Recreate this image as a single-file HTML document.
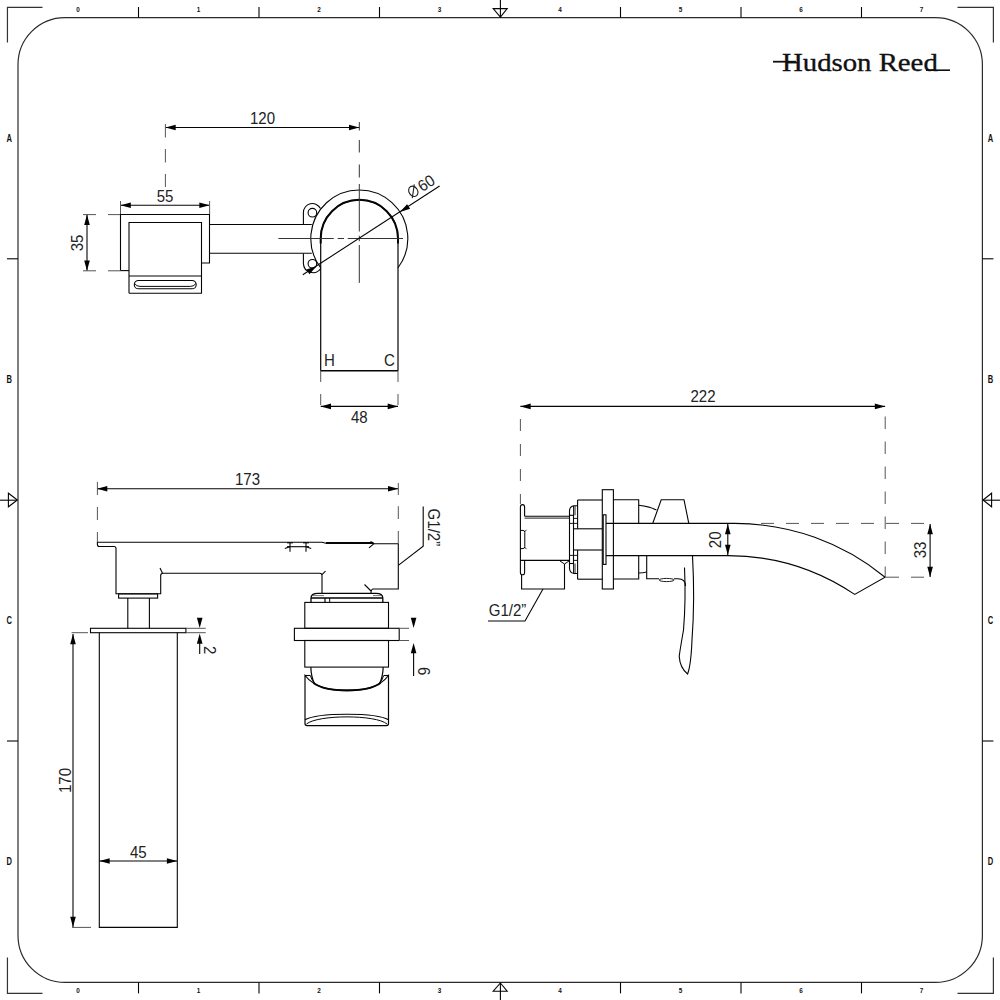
<!DOCTYPE html>
<html><head><meta charset="utf-8"><style>
html,body{margin:0;padding:0;background:#fff;width:1000px;height:1000px;overflow:hidden}
svg{display:block}
</style></head><body>
<svg width="1000" height="1000" viewBox="0 0 1000 1000">
<rect width="1000" height="1000" fill="#fff"/>
<path d="M65.0,17.6 H935.4 A47,47 0 0 1 982.4,64.6 V935.4 A47,47 0 0 1 935.4,982.4 H65.0 A47,47 0 0 1 18.0,935.4 V64.6 A47,47 0 0 1 65.0,17.6 Z" fill="none" stroke="#2a2a2a" stroke-width="1.2" />
<polyline points="7.45,42.5 7.45,7.45 42.5,7.45" fill="none" stroke="#333" stroke-width="1.2"/>
<polyline points="957.5,7.45 993.4,7.45 993.4,42.5" fill="none" stroke="#333" stroke-width="1.2"/>
<polyline points="7.45,957.5 7.45,993.4 42.5,993.4" fill="none" stroke="#333" stroke-width="1.2"/>
<polyline points="957.5,993.4 993.4,993.4 993.4,957.5" fill="none" stroke="#333" stroke-width="1.2"/>
<line x1="138.5" y1="7" x2="138.5" y2="17.6" stroke="#050505" stroke-width="1.1"/>
<line x1="138.5" y1="982.4" x2="138.5" y2="993.4" stroke="#050505" stroke-width="1.1"/>
<line x1="259" y1="7" x2="259" y2="17.6" stroke="#050505" stroke-width="1.1"/>
<line x1="259" y1="982.4" x2="259" y2="993.4" stroke="#050505" stroke-width="1.1"/>
<line x1="379.5" y1="7" x2="379.5" y2="17.6" stroke="#050505" stroke-width="1.1"/>
<line x1="379.5" y1="982.4" x2="379.5" y2="993.4" stroke="#050505" stroke-width="1.1"/>
<line x1="620.5" y1="7" x2="620.5" y2="17.6" stroke="#050505" stroke-width="1.1"/>
<line x1="620.5" y1="982.4" x2="620.5" y2="993.4" stroke="#050505" stroke-width="1.1"/>
<line x1="741" y1="7" x2="741" y2="17.6" stroke="#050505" stroke-width="1.1"/>
<line x1="741" y1="982.4" x2="741" y2="993.4" stroke="#050505" stroke-width="1.1"/>
<line x1="861.5" y1="7" x2="861.5" y2="17.6" stroke="#050505" stroke-width="1.1"/>
<line x1="861.5" y1="982.4" x2="861.5" y2="993.4" stroke="#050505" stroke-width="1.1"/>
<line x1="7" y1="258.8" x2="18.0" y2="258.8" stroke="#050505" stroke-width="1.1"/>
<line x1="982.4" y1="258.8" x2="993.4" y2="258.8" stroke="#050505" stroke-width="1.1"/>
<line x1="7" y1="741" x2="18.0" y2="741" stroke="#050505" stroke-width="1.1"/>
<line x1="982.4" y1="741" x2="993.4" y2="741" stroke="#050505" stroke-width="1.1"/>
<polygon points="493.2,8.6 507.2,8.6 500.4,17.2" fill="none" stroke="#050505" stroke-width="1.1"/>
<line x1="500.4" y1="0" x2="500.4" y2="17" stroke="#050505" stroke-width="1.1"/>
<polygon points="493.2,991.2 507.2,991.2 500.4,983" fill="none" stroke="#050505" stroke-width="1.1"/>
<line x1="500.4" y1="983" x2="500.4" y2="1000" stroke="#050505" stroke-width="1.1"/>
<polygon points="8.4,493.2 8.4,506.8 17.4,500" fill="none" stroke="#050505" stroke-width="1.1"/>
<line x1="0" y1="500.2" x2="17" y2="500.2" stroke="#050505" stroke-width="1.1"/>
<polygon points="991.6,493.2 991.6,506.8 983,500" fill="none" stroke="#050505" stroke-width="1.1"/>
<line x1="983" y1="500.2" x2="1000" y2="500.2" stroke="#050505" stroke-width="1.1"/>
<g transform="translate(78.0 12.3) scale(0.85 1)"><text x="0" y="0" font-family="&quot;Liberation Sans&quot;, sans-serif" font-size="7.5" text-anchor="middle" fill="#111" font-weight="bold">0</text></g>
<g transform="translate(78.0 993.3) scale(0.85 1)"><text x="0" y="0" font-family="&quot;Liberation Sans&quot;, sans-serif" font-size="7.5" text-anchor="middle" fill="#111" font-weight="bold">0</text></g>
<g transform="translate(198.5 12.3) scale(0.85 1)"><text x="0" y="0" font-family="&quot;Liberation Sans&quot;, sans-serif" font-size="7.5" text-anchor="middle" fill="#111" font-weight="bold">1</text></g>
<g transform="translate(198.5 993.3) scale(0.85 1)"><text x="0" y="0" font-family="&quot;Liberation Sans&quot;, sans-serif" font-size="7.5" text-anchor="middle" fill="#111" font-weight="bold">1</text></g>
<g transform="translate(319.0 12.3) scale(0.85 1)"><text x="0" y="0" font-family="&quot;Liberation Sans&quot;, sans-serif" font-size="7.5" text-anchor="middle" fill="#111" font-weight="bold">2</text></g>
<g transform="translate(319.0 993.3) scale(0.85 1)"><text x="0" y="0" font-family="&quot;Liberation Sans&quot;, sans-serif" font-size="7.5" text-anchor="middle" fill="#111" font-weight="bold">2</text></g>
<g transform="translate(439.5 12.3) scale(0.85 1)"><text x="0" y="0" font-family="&quot;Liberation Sans&quot;, sans-serif" font-size="7.5" text-anchor="middle" fill="#111" font-weight="bold">3</text></g>
<g transform="translate(439.5 993.3) scale(0.85 1)"><text x="0" y="0" font-family="&quot;Liberation Sans&quot;, sans-serif" font-size="7.5" text-anchor="middle" fill="#111" font-weight="bold">3</text></g>
<g transform="translate(560.0 12.3) scale(0.85 1)"><text x="0" y="0" font-family="&quot;Liberation Sans&quot;, sans-serif" font-size="7.5" text-anchor="middle" fill="#111" font-weight="bold">4</text></g>
<g transform="translate(560.0 993.3) scale(0.85 1)"><text x="0" y="0" font-family="&quot;Liberation Sans&quot;, sans-serif" font-size="7.5" text-anchor="middle" fill="#111" font-weight="bold">4</text></g>
<g transform="translate(680.5 12.3) scale(0.85 1)"><text x="0" y="0" font-family="&quot;Liberation Sans&quot;, sans-serif" font-size="7.5" text-anchor="middle" fill="#111" font-weight="bold">5</text></g>
<g transform="translate(680.5 993.3) scale(0.85 1)"><text x="0" y="0" font-family="&quot;Liberation Sans&quot;, sans-serif" font-size="7.5" text-anchor="middle" fill="#111" font-weight="bold">5</text></g>
<g transform="translate(801.0 12.3) scale(0.85 1)"><text x="0" y="0" font-family="&quot;Liberation Sans&quot;, sans-serif" font-size="7.5" text-anchor="middle" fill="#111" font-weight="bold">6</text></g>
<g transform="translate(801.0 993.3) scale(0.85 1)"><text x="0" y="0" font-family="&quot;Liberation Sans&quot;, sans-serif" font-size="7.5" text-anchor="middle" fill="#111" font-weight="bold">6</text></g>
<g transform="translate(921.5 12.3) scale(0.85 1)"><text x="0" y="0" font-family="&quot;Liberation Sans&quot;, sans-serif" font-size="7.5" text-anchor="middle" fill="#111" font-weight="bold">7</text></g>
<g transform="translate(921.5 993.3) scale(0.85 1)"><text x="0" y="0" font-family="&quot;Liberation Sans&quot;, sans-serif" font-size="7.5" text-anchor="middle" fill="#111" font-weight="bold">7</text></g>
<g transform="translate(9.3 141.6) scale(0.72 1)"><text x="0" y="0" font-family="&quot;Liberation Sans&quot;, sans-serif" font-size="10.5" text-anchor="middle" fill="#111" font-weight="bold">A</text></g>
<g transform="translate(990.4 141.6) scale(0.72 1)"><text x="0" y="0" font-family="&quot;Liberation Sans&quot;, sans-serif" font-size="10.5" text-anchor="middle" fill="#111" font-weight="bold">A</text></g>
<g transform="translate(9.3 382.6) scale(0.72 1)"><text x="0" y="0" font-family="&quot;Liberation Sans&quot;, sans-serif" font-size="10.5" text-anchor="middle" fill="#111" font-weight="bold">B</text></g>
<g transform="translate(990.4 382.6) scale(0.72 1)"><text x="0" y="0" font-family="&quot;Liberation Sans&quot;, sans-serif" font-size="10.5" text-anchor="middle" fill="#111" font-weight="bold">B</text></g>
<g transform="translate(9.3 623.6) scale(0.72 1)"><text x="0" y="0" font-family="&quot;Liberation Sans&quot;, sans-serif" font-size="10.5" text-anchor="middle" fill="#111" font-weight="bold">C</text></g>
<g transform="translate(990.4 623.6) scale(0.72 1)"><text x="0" y="0" font-family="&quot;Liberation Sans&quot;, sans-serif" font-size="10.5" text-anchor="middle" fill="#111" font-weight="bold">C</text></g>
<g transform="translate(9.3 864.6) scale(0.72 1)"><text x="0" y="0" font-family="&quot;Liberation Sans&quot;, sans-serif" font-size="10.5" text-anchor="middle" fill="#111" font-weight="bold">D</text></g>
<g transform="translate(990.4 864.6) scale(0.72 1)"><text x="0" y="0" font-family="&quot;Liberation Sans&quot;, sans-serif" font-size="10.5" text-anchor="middle" fill="#111" font-weight="bold">D</text></g>
<g transform="translate(782,71) scale(1.107,1)"><text x="0" y="0" font-family="&quot;Liberation Serif&quot;, serif" font-size="26" fill="#111" stroke="#111" stroke-width="0.35">Hudson Reed</text></g>
<line x1="773" y1="61.7" x2="796" y2="61.7" stroke="#111" stroke-width="1.8"/>
<line x1="926" y1="70.2" x2="950" y2="70.2" stroke="#111" stroke-width="1.6"/>
<line x1="165.4" y1="127.5" x2="359.3" y2="127.5" stroke="#050505" stroke-width="1.1"/>
<polygon points="165.40,127.50 175.70,124.70 175.70,130.30" fill="#000"/>
<polygon points="359.30,127.50 349.00,130.30 349.00,124.70" fill="#000"/>
<g transform="translate(262.5 123.8) scale(0.94 1)"><text x="0" y="0" font-family="&quot;Liberation Sans&quot;, sans-serif" font-size="16" text-anchor="middle" fill="#222" >120</text></g>
<line x1="165.4" y1="124" x2="165.4" y2="187" stroke="#555" stroke-width="1" stroke-dasharray="13.5 11.5"/>
<line x1="120.5" y1="205.3" x2="209.6" y2="205.3" stroke="#050505" stroke-width="1.1"/>
<polygon points="120.50,205.30 130.80,202.50 130.80,208.10" fill="#000"/>
<polygon points="209.60,205.30 199.30,208.10 199.30,202.50" fill="#000"/>
<g transform="translate(165 201.5) scale(0.94 1)"><text x="0" y="0" font-family="&quot;Liberation Sans&quot;, sans-serif" font-size="16" text-anchor="middle" fill="#222" >55</text></g>
<line x1="120.5" y1="201" x2="120.5" y2="214.5" stroke="#555" stroke-width="1"/>
<line x1="209.6" y1="201" x2="209.6" y2="214.5" stroke="#555" stroke-width="1"/>
<line x1="87" y1="214.6" x2="87" y2="270.8" stroke="#050505" stroke-width="1.1"/>
<polygon points="87.00,214.60 89.80,224.90 84.20,224.90" fill="#000"/>
<polygon points="87.00,270.80 84.20,260.50 89.80,260.50" fill="#000"/>
<g transform="translate(83 243) rotate(-90) scale(0.94 1)"><text x="0" y="0" font-family="&quot;Liberation Sans&quot;, sans-serif" font-size="16" text-anchor="middle" fill="#222" >35</text></g>
<line x1="83" y1="214.6" x2="96" y2="214.6" stroke="#555" stroke-width="1"/>
<line x1="108" y1="214.6" x2="120.5" y2="214.6" stroke="#555" stroke-width="1"/>
<line x1="83" y1="270.8" x2="96" y2="270.8" stroke="#555" stroke-width="1"/>
<line x1="108" y1="270.8" x2="120.5" y2="270.8" stroke="#555" stroke-width="1"/>
<polyline points="120.5,270.6 120.5,214.5 209.5,214.5 209.5,263 201.5,263" fill="none" stroke="#050505" stroke-width="1.1"/>
<line x1="120.5" y1="270.6" x2="129" y2="270.6" stroke="#050505" stroke-width="1.1"/>
<polyline points="129,293.2 129,222.5 201.5,222.5 201.5,293.2 129,293.2" fill="none" stroke="#050505" stroke-width="1.1"/>
<line x1="129" y1="276" x2="201.5" y2="276" stroke="#050505" stroke-width="1.1"/>
<rect x="134.3" y="280.5" width="61.89999999999998" height="8.300000000000011" rx="4.2" fill="none" stroke="#050505" stroke-width="1.1"/>
<path d="M134.8,283.5 Q136,286.4 140,286.4 H190.5 Q194.5,286.4 195.7,283.5" fill="none" stroke="#050505" stroke-width="1" />
<line x1="209.5" y1="224.5" x2="311.8" y2="224.5" stroke="#050505" stroke-width="1.1"/>
<line x1="209.5" y1="253.3" x2="311.8" y2="253.3" stroke="#050505" stroke-width="1.1"/>
<path d="M398,267.73 A48.5,48.5 0 1 0 320.7,267.86" fill="none" stroke="#050505" stroke-width="1.1" />
<path d="M320.7,370.7 V238.5 A38.65,38.65 0 0 1 398,238.5 V370.7" fill="none" stroke="#050505" stroke-width="1.2" />
<path d="M320.7,243.5 V238.5 A38.65,38.65 0 0 1 398,238.5 V243.5" fill="none" stroke="#050505" stroke-width="2" />
<line x1="320.7" y1="370.7" x2="398" y2="370.7" stroke="#050505" stroke-width="1.4"/>
<path d="M303.4,224.5 V212.7 A9,9 0 0 1 320.5,208.6" fill="none" stroke="#050505" stroke-width="1.1" />
<circle cx="312.4" cy="212.7" r="4.3" fill="none" stroke="#050505" stroke-width="1.1"/>
<path d="M303.4,253.4 V263.6 A9.5,9.5 0 0 0 320.7,268.5" fill="none" stroke="#050505" stroke-width="1.1" />
<circle cx="312.4" cy="263.8" r="4.3" fill="none" stroke="#050505" stroke-width="1.1"/>
<line x1="359.3" y1="122" x2="359.3" y2="130.5" stroke="#333" stroke-width="1"/>
<line x1="359.3" y1="140" x2="359.3" y2="152.5" stroke="#333" stroke-width="1"/>
<line x1="359.3" y1="164.5" x2="359.3" y2="177.5" stroke="#333" stroke-width="1"/>
<line x1="359.3" y1="184" x2="359.3" y2="231.5" stroke="#333" stroke-width="1"/>
<line x1="359.3" y1="235.7" x2="359.3" y2="241.2" stroke="#333" stroke-width="1"/>
<line x1="359.3" y1="245" x2="359.3" y2="282.9" stroke="#333" stroke-width="1"/>
<line x1="278.4" y1="238.5" x2="333.75" y2="238.5" stroke="#333" stroke-width="1"/>
<line x1="337.75" y1="238.5" x2="344" y2="238.5" stroke="#333" stroke-width="1"/>
<line x1="347.75" y1="238.5" x2="403" y2="238.5" stroke="#333" stroke-width="1"/>
<line x1="302.8" y1="274.8" x2="439.6" y2="186" stroke="#050505" stroke-width="1.1"/>
<polygon points="399.98,212.09 407.09,204.13 410.14,208.82" fill="#000"/>
<polygon points="316.53,266.28 309.41,274.23 306.36,269.54" fill="#000"/>
<ellipse cx="413.3" cy="191.3" rx="4.3" ry="5.5" transform="rotate(-33 413.3 191.3)" fill="none" stroke="#222" stroke-width="1.1"/>
<line x1="414.3" y1="184.3" x2="412.3" y2="198.2" stroke="#222" stroke-width="1.1"/>
<g transform="translate(422.2 192.2) rotate(-33) scale(0.94 1)"><text x="0" y="0" font-family="&quot;Liberation Sans&quot;, sans-serif" font-size="16" text-anchor="start" fill="#222" >60</text></g>
<g transform="translate(329.5 366) scale(0.94 1)"><text x="0" y="0" font-family="&quot;Liberation Sans&quot;, sans-serif" font-size="16" text-anchor="middle" fill="#222" >H</text></g>
<g transform="translate(389.5 366) scale(0.94 1)"><text x="0" y="0" font-family="&quot;Liberation Sans&quot;, sans-serif" font-size="16" text-anchor="middle" fill="#222" >C</text></g>
<line x1="320.7" y1="371" x2="320.7" y2="406" stroke="#555" stroke-width="1" stroke-dasharray="11 12"/>
<line x1="398" y1="371" x2="398" y2="406" stroke="#555" stroke-width="1" stroke-dasharray="11 12"/>
<line x1="320.7" y1="406.4" x2="398" y2="406.4" stroke="#050505" stroke-width="1.1"/>
<polygon points="320.70,406.40 331.00,403.60 331.00,409.20" fill="#000"/>
<polygon points="398.00,406.40 387.70,409.20 387.70,403.60" fill="#000"/>
<g transform="translate(359.3 422.5) scale(0.94 1)"><text x="0" y="0" font-family="&quot;Liberation Sans&quot;, sans-serif" font-size="16" text-anchor="middle" fill="#222" >48</text></g>
<line x1="97" y1="488.7" x2="398.3" y2="488.7" stroke="#050505" stroke-width="1.1"/>
<polygon points="97.00,488.70 107.30,485.90 107.30,491.50" fill="#000"/>
<polygon points="398.30,488.70 388.00,491.50 388.00,485.90" fill="#000"/>
<g transform="translate(247.5 484.5) scale(0.94 1)"><text x="0" y="0" font-family="&quot;Liberation Sans&quot;, sans-serif" font-size="16" text-anchor="middle" fill="#222" >173</text></g>
<line x1="97.4" y1="482" x2="97.4" y2="543" stroke="#555" stroke-width="1" stroke-dasharray="13 12"/>
<line x1="398.3" y1="506.2" x2="398.3" y2="519" stroke="#555" stroke-width="1"/>
<line x1="398.3" y1="531" x2="398.3" y2="543" stroke="#555" stroke-width="1"/>
<line x1="398.3" y1="483" x2="398.3" y2="495" stroke="#555" stroke-width="1"/>
<path d="M97.4,542.3 H322 L326,543.2 H373.5 L374,543.8 H398.3 V589 H373.4 Q371,589 371,593" fill="none" stroke="#050505" stroke-width="1.1" />
<path d="M97.4,542.3 V544.5 Q97.4,546.5 99.4,546.5 H114 Q116,546.5 116,548.5 V593.7 H160.7 V575.5 Q160.7,573.2 163,573.2 H319.7 Q322,573.2 322,575.5 V593.5" fill="none" stroke="#050505" stroke-width="1.1" />
<line x1="160" y1="568" x2="162.5" y2="573.2" stroke="#050505" stroke-width="1.1"/>
<line x1="322" y1="574.7" x2="325.5" y2="571.2" stroke="#050505" stroke-width="1.1"/>
<line x1="371" y1="591" x2="364.5" y2="584.5" stroke="#050505" stroke-width="1.1"/>
<line x1="287" y1="546.7" x2="309" y2="546.7" stroke="#050505" stroke-width="1.1"/>
<line x1="284.8" y1="548.6" x2="290" y2="546.7" stroke="#050505" stroke-width="1.1"/>
<line x1="306" y1="546.7" x2="311.2" y2="548.6" stroke="#050505" stroke-width="1.1"/>
<line x1="290" y1="542.5" x2="290" y2="551.8" stroke="#050505" stroke-width="1.1"/>
<line x1="306" y1="542.5" x2="306" y2="551.8" stroke="#050505" stroke-width="1.1"/>
<line x1="287" y1="542.8" x2="293" y2="542.8" stroke="#050505" stroke-width="1.1"/>
<line x1="303" y1="542.8" x2="309" y2="542.8" stroke="#050505" stroke-width="1.1"/>
<line x1="326" y1="543.1" x2="373" y2="543.1" stroke="#050505" stroke-width="2"/>
<line x1="369" y1="547.8" x2="374" y2="543.6" stroke="#050505" stroke-width="1.1"/>
<line x1="370.5" y1="541.6" x2="374" y2="543.6" stroke="#050505" stroke-width="1.1"/>
<polyline points="398.3,565.4 423.2,546.2 423.2,506.6" fill="none" stroke="#050505" stroke-width="1.1"/>
<g transform="translate(427.8 527.4) rotate(90) scale(0.94 1)"><text x="0" y="0" font-family="&quot;Liberation Sans&quot;, sans-serif" font-size="16" text-anchor="middle" fill="#222" >G1/2”</text></g>
<rect x="118.6" y="593.9" width="39.0" height="4.2000000000000455" rx="0" fill="none" stroke="#050505" stroke-width="1.1"/>
<line x1="127.8" y1="598.1" x2="127.8" y2="628.3" stroke="#050505" stroke-width="1.1"/>
<line x1="149.4" y1="598.1" x2="149.4" y2="628.3" stroke="#050505" stroke-width="1.1"/>
<rect x="90.5" y="628.3" width="95.4" height="4.400000000000091" rx="0" fill="none" stroke="#050505" stroke-width="1.1"/>
<line x1="185.9" y1="628.3" x2="205.7" y2="628.3" stroke="#555" stroke-width="1"/>
<line x1="185.9" y1="632.7" x2="205.7" y2="632.7" stroke="#555" stroke-width="1"/>
<polygon points="199.70,628.00 196.90,617.70 202.50,617.70" fill="#000"/>
<polygon points="199.70,633.50 202.50,643.80 196.90,643.80" fill="#000"/>
<line x1="199.7" y1="643" x2="199.7" y2="654" stroke="#050505" stroke-width="1.1"/>
<g transform="translate(204 650.3) rotate(90) scale(0.94 1)"><text x="0" y="0" font-family="&quot;Liberation Sans&quot;, sans-serif" font-size="16" text-anchor="middle" fill="#222" >2</text></g>
<polyline points="99.3,632.7 99.3,927.4 177.3,927.4 177.3,632.7" fill="none" stroke="#050505" stroke-width="1.1"/>
<line x1="71.6" y1="632.7" x2="88" y2="632.7" stroke="#555" stroke-width="1"/>
<line x1="72" y1="927.4" x2="91" y2="927.4" stroke="#555" stroke-width="1"/>
<line x1="73" y1="634" x2="73" y2="927" stroke="#050505" stroke-width="1.1"/>
<polygon points="73.00,634.00 75.80,644.30 70.20,644.30" fill="#000"/>
<polygon points="73.00,927.00 70.20,916.70 75.80,916.70" fill="#000"/>
<g transform="translate(71 780.5) rotate(-90) scale(0.94 1)"><text x="0" y="0" font-family="&quot;Liberation Sans&quot;, sans-serif" font-size="16" text-anchor="middle" fill="#222" >170</text></g>
<line x1="99.4" y1="861" x2="177.2" y2="861" stroke="#050505" stroke-width="1.1"/>
<polygon points="99.40,861.00 109.70,858.20 109.70,863.80" fill="#000"/>
<polygon points="177.20,861.00 166.90,863.80 166.90,858.20" fill="#000"/>
<g transform="translate(138.3 857.5) scale(0.94 1)"><text x="0" y="0" font-family="&quot;Liberation Sans&quot;, sans-serif" font-size="16" text-anchor="middle" fill="#222" >45</text></g>
<path d="M311,602.4 V598 Q311,593.3 318,593.3 H376 Q382.8,593.3 382.8,598 V602.4" fill="none" stroke="#050505" stroke-width="1.3" />
<line x1="311" y1="597.9" x2="382.8" y2="597.9" stroke="#050505" stroke-width="1.5"/>
<line x1="313" y1="595.6" x2="324" y2="595.6" stroke="#777" stroke-width="1"/>
<line x1="373" y1="595.6" x2="381" y2="595.6" stroke="#777" stroke-width="1"/>
<line x1="325" y1="597.9" x2="325" y2="602.4" stroke="#050505" stroke-width="1.2"/>
<line x1="329.7" y1="597.9" x2="329.7" y2="602.4" stroke="#050505" stroke-width="1"/>
<rect x="304.8" y="602.4" width="83.69999999999999" height="25.899999999999977" rx="0" fill="none" stroke="#050505" stroke-width="1.1"/>
<rect x="294.4" y="628.3" width="104.80000000000001" height="12.200000000000045" rx="0" fill="none" stroke="#050505" stroke-width="1.1"/>
<line x1="399.2" y1="628.3" x2="409" y2="628.3" stroke="#555" stroke-width="1"/>
<line x1="399.2" y1="640.5" x2="409" y2="640.5" stroke="#555" stroke-width="1"/>
<polygon points="413.60,628.00 410.80,617.70 416.40,617.70" fill="#000"/>
<polygon points="413.60,643.00 416.40,653.30 410.80,653.30" fill="#000"/>
<line x1="413.6" y1="653" x2="413.6" y2="676" stroke="#050505" stroke-width="1.1"/>
<g transform="translate(418 671.3) rotate(90) scale(0.94 1)"><text x="0" y="0" font-family="&quot;Liberation Sans&quot;, sans-serif" font-size="16" text-anchor="middle" fill="#222" >6</text></g>
<rect x="304.8" y="640.5" width="83.69999999999999" height="26.600000000000023" rx="0" fill="none" stroke="#050505" stroke-width="1.1"/>
<path d="M310.8,667.1 C311.2,676 312.5,680 314.5,683.5" fill="none" stroke="#050505" stroke-width="1.2" />
<path d="M383.2,667.1 C382.8,676 381.5,680 379.5,683.5" fill="none" stroke="#050505" stroke-width="1.2" />
<path d="M313.5,683 C322,689 335,690.4 347,690.4 C359,690.4 372,689 380.5,683" fill="none" stroke="#050505" stroke-width="2.1" />
<path d="M305,723.6 V675.5 C315,688 330,690.5 347,690.5 C364,690.5 379,688 388.5,675.5 V723.6 Q388.5,725.6 386.5,725.6 H307 Q305,725.6 305,723.6 Z" fill="none" stroke="#050505" stroke-width="1.2" />
<line x1="305" y1="675.5" x2="310.3" y2="675.5" stroke="#050505" stroke-width="1.1"/>
<line x1="383.7" y1="675.5" x2="388.5" y2="675.5" stroke="#050505" stroke-width="1.1"/>
<path d="M310.3,675.5 Q311.8,680.5 315,684" fill="none" stroke="#050505" stroke-width="1" />
<path d="M383.7,675.5 Q382.2,680.5 379,684" fill="none" stroke="#050505" stroke-width="1" />
<path d="M305,719.8 C318,712.4 376,712.4 388.5,719.8" fill="none" stroke="#050505" stroke-width="1.2" />
<path d="M306.5,724 C318,714.5 376,714.5 387,724" fill="none" stroke="#050505" stroke-width="1" />
<line x1="520.4" y1="406.4" x2="885.1" y2="406.4" stroke="#050505" stroke-width="1.1"/>
<polygon points="520.40,406.40 530.70,403.60 530.70,409.20" fill="#000"/>
<polygon points="885.10,406.40 874.80,409.20 874.80,403.60" fill="#000"/>
<g transform="translate(703 402) scale(0.94 1)"><text x="0" y="0" font-family="&quot;Liberation Sans&quot;, sans-serif" font-size="16" text-anchor="middle" fill="#222" >222</text></g>
<line x1="520.4" y1="419" x2="520.4" y2="504" stroke="#555" stroke-width="1" stroke-dasharray="12 13"/>
<line x1="885.2" y1="416.5" x2="885.2" y2="577" stroke="#555" stroke-width="1" stroke-dasharray="12.5 12.5"/>
<path d="M524.6,516.2 V507 Q524.6,504.6 522.5,504.6 Q520.4,504.6 520.4,507 V572.4 Q520.4,574.8 522.5,574.8 Q524.6,574.8 524.6,572.4 V560.4" fill="none" stroke="#050505" stroke-width="1.1" />
<line x1="524.6" y1="516.2" x2="569.5" y2="516.2" stroke="#050505" stroke-width="1.1"/>
<line x1="524.6" y1="518.1" x2="569.5" y2="518.1" stroke="#050505" stroke-width="0.9"/>
<line x1="520.4" y1="560.4" x2="569.5" y2="560.4" stroke="#050505" stroke-width="1.1"/>
<polyline points="521.6,574.8 521.6,589 564.5,589 564.5,564" fill="none" stroke="#050505" stroke-width="1.1"/>
<path d="M520.4,530.4 H523 Q524.8,530.4 524.8,532.5 V546.5 Q524.8,548.6 523,548.6 H520.4" fill="none" stroke="#050505" stroke-width="1" />
<line x1="524.8" y1="531.5" x2="526.5" y2="530.2" stroke="#050505" stroke-width="0.9"/>
<line x1="524.8" y1="547.5" x2="526.5" y2="548.8" stroke="#050505" stroke-width="0.9"/>
<polyline points="543,589 525,621 488,621" fill="none" stroke="#050505" stroke-width="1.1"/>
<g transform="translate(507.5 616) scale(0.94 1)"><text x="0" y="0" font-family="&quot;Liberation Sans&quot;, sans-serif" font-size="16" text-anchor="middle" fill="#222" >G1/2”</text></g>
<line x1="560" y1="561" x2="564.5" y2="564" stroke="#050505" stroke-width="1"/>
<line x1="569" y1="561" x2="564.5" y2="564" stroke="#050505" stroke-width="1"/>
<rect x="569.5" y="515.3" width="4.0" height="48.200000000000045" rx="0" fill="none" stroke="#050505" stroke-width="1.1"/>
<line x1="569.5" y1="523.4" x2="573.5" y2="523.4" stroke="#050505" stroke-width="0.9"/>
<line x1="569.5" y1="555.4" x2="573.5" y2="555.4" stroke="#050505" stroke-width="0.9"/>
<path d="M577.6,505.8 H574 Q569.5,506.5 569.5,511 V515.3" fill="none" stroke="#050505" stroke-width="1.1" />
<path d="M577.6,573.5 H574 Q569.5,572.8 569.5,568.3 V563.5" fill="none" stroke="#050505" stroke-width="1.1" />
<line x1="573.5" y1="506" x2="573.5" y2="515.3" stroke="#050505" stroke-width="0.9"/>
<line x1="575" y1="506" x2="575" y2="515.3" stroke="#050505" stroke-width="0.9"/>
<line x1="573.5" y1="563.5" x2="573.5" y2="573.3" stroke="#050505" stroke-width="0.9"/>
<line x1="575" y1="563.5" x2="575" y2="573.3" stroke="#050505" stroke-width="0.9"/>
<line x1="577.6" y1="500" x2="577.6" y2="528.8" stroke="#050505" stroke-width="1.1"/>
<line x1="577.6" y1="550" x2="577.6" y2="579.2" stroke="#050505" stroke-width="1.1"/>
<line x1="573.5" y1="518.4" x2="577.6" y2="518.4" stroke="#050505" stroke-width="0.9"/>
<line x1="573.5" y1="523.4" x2="577.6" y2="523.4" stroke="#050505" stroke-width="0.9"/>
<line x1="573.5" y1="555.4" x2="577.6" y2="555.4" stroke="#050505" stroke-width="0.9"/>
<line x1="573.5" y1="560.4" x2="577.6" y2="560.4" stroke="#050505" stroke-width="0.9"/>
<polyline points="577.6,500 602.3,500" fill="none" stroke="#050505" stroke-width="1.1"/>
<polyline points="577.6,579.2 602.3,579.2" fill="none" stroke="#050505" stroke-width="1.1"/>
<line x1="573.5" y1="528.8" x2="602.3" y2="528.8" stroke="#050505" stroke-width="1.1"/>
<line x1="573.5" y1="550" x2="602.3" y2="550" stroke="#050505" stroke-width="1.1"/>
<rect x="602.3" y="489.7" width="11.100000000000023" height="99.30000000000001" rx="0" fill="none" stroke="#050505" stroke-width="1.1"/>
<rect x="603.2" y="514.8" width="2.7999999999999545" height="49.60000000000002" rx="0" fill="none" stroke="#050505" stroke-width="1.1"/>
<polyline points="613.4,499.8 638.7,499.8 638.7,523.3" fill="none" stroke="#050505" stroke-width="1.1"/>
<polyline points="613.4,579 638.7,579 638.7,555.9" fill="none" stroke="#050505" stroke-width="1.1"/>
<path d="M638.7,505.2 Q650,506.5 656.4,510" fill="none" stroke="#050505" stroke-width="1.1" />
<path d="M638.7,573 Q643,573 646.7,572" fill="none" stroke="#050505" stroke-width="1" />
<polyline points="652.8,523.3 661.2,499.8 684,499.8 688.8,523.3" fill="none" stroke="#050505" stroke-width="1.1"/>
<path d="M606,523.4 H735 A236.7,236.7 0 0 1 885.1,577.2 L854.7,594.4 A227.2,227.2 0 0 0 728,555.6 H606" fill="none" stroke="#050505" stroke-width="1.1" />
<polyline points="646.7,555.9 646.7,578.7 659,578.7" fill="none" stroke="#050505" stroke-width="1.1"/>
<ellipse cx="666.6" cy="580" rx="7.5" ry="1.6" fill="none" stroke="#050505" stroke-width="0.9"/>
<path d="M674,578.7 H678 Q685.5,579 685.5,586" fill="none" stroke="#050505" stroke-width="1.1" />
<path d="M684.5,567.5 Q686,600 683.5,630 Q680,650 679.2,656.4 Q680,668 687.6,674 Q691,665 692,640 Q695,600 692.5,555.9" fill="none" stroke="#050505" stroke-width="1.1" />
<line x1="761" y1="523.4" x2="925" y2="523.4" stroke="#555" stroke-width="1" stroke-dasharray="13 12"/>
<line x1="886" y1="577.2" x2="925" y2="577.2" stroke="#555" stroke-width="1" stroke-dasharray="13 12"/>
<line x1="727.8" y1="524" x2="727.8" y2="555" stroke="#050505" stroke-width="1.1"/>
<polygon points="727.80,524.00 730.60,534.30 725.00,534.30" fill="#000"/>
<polygon points="727.80,555.00 725.00,544.70 730.60,544.70" fill="#000"/>
<g transform="translate(721 539.8) rotate(-90) scale(0.94 1)"><text x="0" y="0" font-family="&quot;Liberation Sans&quot;, sans-serif" font-size="16" text-anchor="middle" fill="#222" >20</text></g>
<line x1="930.1" y1="524" x2="930.1" y2="577" stroke="#050505" stroke-width="1.1"/>
<polygon points="930.10,524.00 932.90,534.30 927.30,534.30" fill="#000"/>
<polygon points="930.10,577.00 927.30,566.70 932.90,566.70" fill="#000"/>
<g transform="translate(925.5 550) rotate(-90) scale(0.94 1)"><text x="0" y="0" font-family="&quot;Liberation Sans&quot;, sans-serif" font-size="16" text-anchor="middle" fill="#222" >33</text></g>
</svg></body></html>
